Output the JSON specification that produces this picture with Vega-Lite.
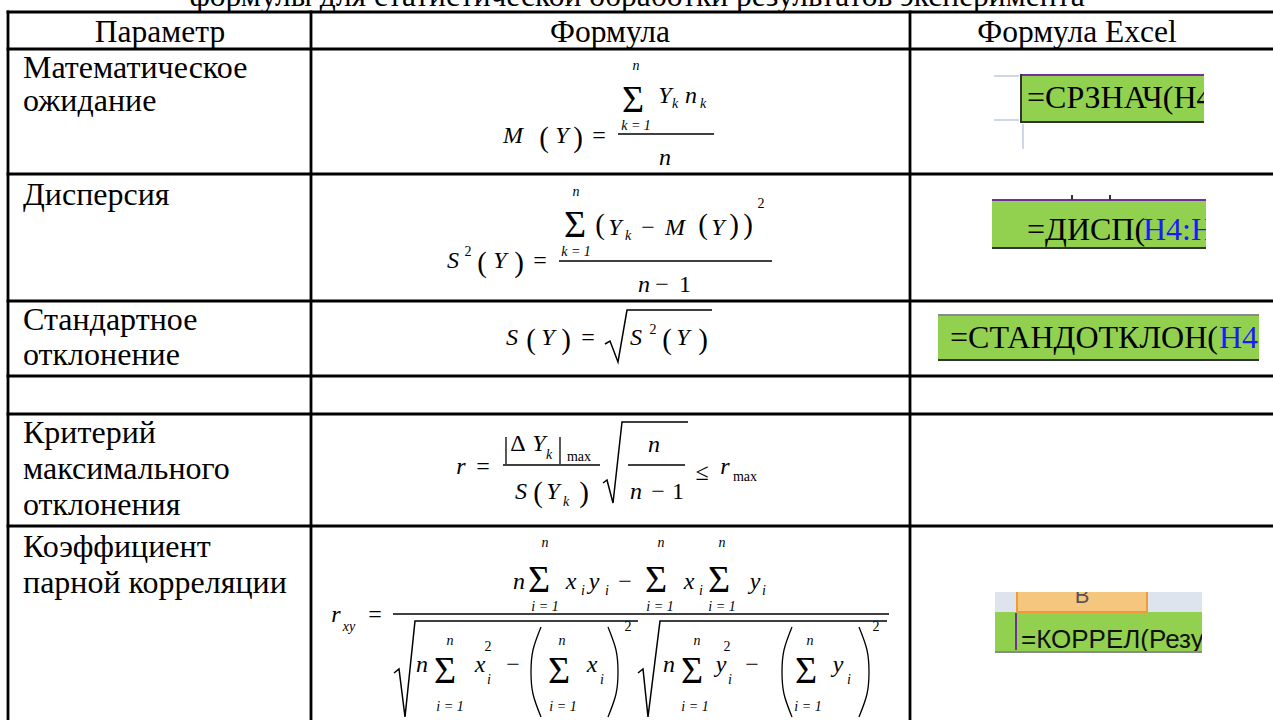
{
 "$schema": "https://vega.github.io/schema/vega-lite/v6.json",
 "width": 1273, "height": 720, "autosize": {"type": "none"}, "padding": 0,
 "background": "white",
 "config": {"view": {"stroke": null}},
 "datasets": {
  "grid": [
   {"x":8,"x2":1273,"y":12,"y2":12},{"x":8,"x2":1273,"y":49,"y2":49},{"x":8,"x2":1273,"y":174,"y2":174},
   {"x":8,"x2":1273,"y":301,"y2":301},{"x":8,"x2":1273,"y":376,"y2":376},{"x":8,"x2":1273,"y":414,"y2":414},
   {"x":8,"x2":1273,"y":526,"y2":526},
   {"x":8,"x2":8,"y":12,"y2":720},{"x":311,"x2":311,"y":12,"y2":720},{"x":910,"x2":910,"y":12,"y2":720}
  ],
  "text": [
   {"t":"формулы для статистической обработки результатов эксперимента","x":637,"y":6,"k":"c"},
   {"t":"Параметр","x":160,"y":42,"k":"c"},
   {"t":"Формула","x":610,"y":42,"k":"c"},
   {"t":"Формула Excel","x":1077,"y":42,"k":"c"},
   {"t":"Математическое","x":23,"y":78,"k":"l"},
   {"t":"ожидание","x":23,"y":111,"k":"l"},
   {"t":"Дисперсия","x":23,"y":205,"k":"l"},
   {"t":"Стандартное","x":23,"y":330,"k":"l"},
   {"t":"отклонение","x":23,"y":365,"k":"l"},
   {"t":"Критерий","x":23,"y":443,"k":"l"},
   {"t":"максимального","x":23,"y":479,"k":"l"},
   {"t":"отклонения","x":23,"y":515,"k":"l"},
   {"t":"Коэффициент","x":23,"y":557,"k":"l"},
   {"t":"парной корреляции","x":23,"y":593,"k":"l"}
  ],
  "rects": [
   {"x":1020,"x2":1204,"y":74,"y2":123,"part":"green"},
   {"x":992,"x2":1206,"y":200,"y2":249,"part":"green"},
   {"x":938,"x2":1259,"y":315,"y2":361,"part":"green"},
   {"x":995,"x2":1202,"y":612,"y2":653,"part":"green"},
   {"x":995,"x2":1202,"y":592,"y2":612,"part":"strip"},
   {"x":1017,"x2":1147,"y":592,"y2":612,"part":"orange"},
   {"x":1204,"x2":1235,"y":70,"y2":128,"part":"mask"},
   {"x":1206,"x2":1240,"y":196,"y2":252,"part":"mask"},
   {"x":1259,"x2":1272,"y":312,"y2":364,"part":"mask"},
   {"x":1202,"x2":1235,"y":608,"y2":656,"part":"mask"},
   {"x":990,"x2":1210,"y":575,"y2":592,"part":"mask"}
  ],
  "xlines": [
   {"x":1020,"x2":1204,"y":75,"y2":75,"part":"purple"},
   {"x":1021,"x2":1021,"y":74,"y2":123,"part":"dark"},
   {"x":1020,"x2":1204,"y":122,"y2":122,"part":"dark"},
   {"x":994,"x2":1019,"y":76,"y2":76,"part":"grid"},
   {"x":994,"x2":1019,"y":120,"y2":120,"part":"grid"},
   {"x":1023,"x2":1023,"y":124,"y2":149,"part":"grid"},
   {"x":992,"x2":1206,"y":200,"y2":200,"part":"purple"},
   {"x":1072,"x2":1072,"y":195,"y2":200,"part":"dark"},
   {"x":1110,"x2":1110,"y":195,"y2":200,"part":"dark"},
   {"x":992,"x2":1206,"y":248,"y2":248,"part":"dark"},
   {"x":938,"x2":1259,"y":315,"y2":315,"part":"gray"},
   {"x":938,"x2":1259,"y":360,"y2":360,"part":"dark"},
   {"x":1017,"x2":1017,"y":592,"y2":612,"part":"obord"},
   {"x":1147,"x2":1147,"y":592,"y2":612,"part":"obord"},
   {"x":1017,"x2":1147,"y":612,"y2":612,"part":"obord"},
   {"x":1016,"x2":1016,"y":613,"y2":650,"part":"purple"},
   {"x":995,"x2":1202,"y":652,"y2":652,"part":"gray"}
  ],
  "xtext": [
   {"t":"=СРЗНАЧ(H4","x":1027,"y":108,"part":"func"},
   {"t":"=ДИСП(","x":1027,"y":240,"part":"func"},
   {"t":"H4:H","x":1143,"y":240,"part":"ref"},
   {"t":"=СТАНДОТКЛОН(","x":950,"y":348,"part":"func"},
   {"t":"H4:","x":1219,"y":348,"part":"ref"},
   {"t":"=КОРРЕЛ(Резу","x":1021,"y":648,"part":"sans"},
   {"t":"B","x":1082,"y":603,"part":"col"}
  ],
  "ftext": [
   {"t":"M","x":513,"y":143,"r":"v"},{"t":"(","x":544,"y":147,"r":"p"},{"t":"Y","x":562,"y":143,"r":"v"},
   {"t":")","x":578,"y":147,"r":"p"},{"t":"=","x":599,"y":143,"r":"o"},{"t":"n","x":636,"y":70,"r":"i"},
   {"t":"Σ","x":633,"y":112,"r":"s"},{"t":"k = 1","x":636,"y":130,"r":"i"},{"t":"Y","x":665,"y":103,"r":"v"},
   {"t":"k","x":675,"y":108,"r":"i"},{"t":"n","x":691,"y":103,"r":"v"},{"t":"k","x":703,"y":108,"r":"i"},
   {"t":"n","x":665,"y":165,"r":"v"},

   {"t":"S","x":453,"y":268,"r":"v"},{"t":"2","x":468,"y":256,"r":"u"},{"t":"(","x":482,"y":272,"r":"p"},
   {"t":"Y","x":500,"y":268,"r":"v"},{"t":")","x":519,"y":272,"r":"p"},{"t":"=","x":540,"y":268,"r":"o"},
   {"t":"n","x":576,"y":196,"r":"i"},{"t":"Σ","x":575,"y":237,"r":"s"},{"t":"k = 1","x":576,"y":256,"r":"i"},
   {"t":"(","x":600,"y":234,"r":"p"},{"t":"Y","x":615,"y":235,"r":"v"},{"t":"k","x":628,"y":240,"r":"i"},
   {"t":"−","x":648,"y":235,"r":"o"},{"t":"M","x":675,"y":235,"r":"v"},{"t":"(","x":703,"y":234,"r":"p"},
   {"t":"Y","x":718,"y":235,"r":"v"},{"t":")","x":734,"y":234,"r":"p"},{"t":")","x":748,"y":234,"r":"p"},
   {"t":"2","x":761,"y":208,"r":"u"},{"t":"n","x":644,"y":292,"r":"v"},{"t":"−","x":662,"y":292,"r":"o"},
   {"t":"1","x":685,"y":292,"r":"o"},

   {"t":"S","x":512,"y":345,"r":"v"},{"t":"(","x":531,"y":349,"r":"p"},{"t":"Y","x":548,"y":345,"r":"v"},
   {"t":")","x":566,"y":349,"r":"p"},{"t":"=","x":588,"y":345,"r":"o"},{"t":"S","x":636,"y":345,"r":"v"},
   {"t":"2","x":653,"y":334,"r":"u"},{"t":"(","x":667,"y":349,"r":"p"},{"t":"Y","x":683,"y":345,"r":"v"},
   {"t":")","x":703,"y":349,"r":"p"},

   {"t":"r","x":461,"y":474,"r":"v"},{"t":"=","x":483,"y":474,"r":"o"},{"t":"Δ","x":518,"y":451,"r":"o"},
   {"t":"Y","x":539,"y":451,"r":"v"},{"t":"k","x":549,"y":459,"r":"i"},{"t":"max","x":579,"y":461,"r":"u"},
   {"t":"S","x":521,"y":499,"r":"v"},{"t":"(","x":538,"y":502,"r":"p"},{"t":"Y","x":553,"y":499,"r":"v"},
   {"t":"k","x":566,"y":506,"r":"i"},{"t":")","x":584,"y":502,"r":"p"},{"t":"n","x":654,"y":452,"r":"v"},
   {"t":"n","x":636,"y":499,"r":"v"},{"t":"−","x":658,"y":499,"r":"o"},{"t":"1","x":678,"y":499,"r":"o"},
   {"t":"≤","x":702,"y":480,"r":"o"},{"t":"r","x":725,"y":474,"r":"v"},{"t":"max","x":745,"y":481,"r":"u"},

   {"t":"n","x":519,"y":589,"r":"v"},{"t":"Σ","x":539,"y":592,"r":"s"},{"t":"n","x":545,"y":547,"r":"i"},
   {"t":"i = 1","x":545,"y":611,"r":"i"},{"t":"x","x":571,"y":589,"r":"v"},{"t":"i","x":583,"y":595,"r":"i"},
   {"t":"y","x":594,"y":589,"r":"v"},{"t":"i","x":607,"y":595,"r":"i"},{"t":"−","x":625,"y":589,"r":"o"},
   {"t":"Σ","x":656,"y":592,"r":"s"},{"t":"n","x":661,"y":547,"r":"i"},{"t":"i = 1","x":660,"y":611,"r":"i"},
   {"t":"x","x":689,"y":589,"r":"v"},{"t":"i","x":701,"y":595,"r":"i"},{"t":"Σ","x":719,"y":592,"r":"s"},
   {"t":"n","x":722,"y":547,"r":"i"},{"t":"i = 1","x":722,"y":611,"r":"i"},{"t":"y","x":755,"y":589,"r":"v"},
   {"t":"i","x":764,"y":595,"r":"i"},
   {"t":"r","x":336,"y":622,"r":"v"},{"t":"xy","x":349,"y":631,"r":"i"},{"t":"=","x":375,"y":622,"r":"o"},
   {"t":"n","x":422,"y":672,"r":"v"},{"t":"Σ","x":445,"y":683,"r":"s"},{"t":"n","x":450,"y":645,"r":"i"},
   {"t":"i = 1","x":450,"y":711,"r":"i"},{"t":"x","x":480,"y":672,"r":"v"},{"t":"2","x":488,"y":651,"r":"u"},
   {"t":"i","x":489,"y":684,"r":"i"},{"t":"−","x":513,"y":672,"r":"o"},{"t":"Σ","x":559,"y":683,"r":"s"},
   {"t":"n","x":562,"y":645,"r":"i"},{"t":"i = 1","x":563,"y":711,"r":"i"},{"t":"x","x":592,"y":672,"r":"v"},
   {"t":"i","x":602,"y":684,"r":"i"},{"t":"2","x":628,"y":631,"r":"u"},
   {"t":"n","x":669,"y":672,"r":"v"},{"t":"Σ","x":692,"y":683,"r":"s"},{"t":"n","x":697,"y":645,"r":"i"},
   {"t":"i = 1","x":695,"y":711,"r":"i"},{"t":"y","x":721,"y":672,"r":"v"},{"t":"2","x":727,"y":651,"r":"u"},
   {"t":"i","x":730,"y":684,"r":"i"},{"t":"−","x":752,"y":672,"r":"o"},{"t":"Σ","x":806,"y":683,"r":"s"},
   {"t":"n","x":810,"y":645,"r":"i"},{"t":"i = 1","x":808,"y":711,"r":"i"},{"t":"y","x":838,"y":672,"r":"v"},
   {"t":"i","x":849,"y":684,"r":"i"},{"t":"2","x":876,"y":631,"r":"u"}
  ],
  "flines": [
   {"x":618,"x2":714,"y":134,"y2":134},{"x":559,"x2":772,"y":261,"y2":261},
   {"x":503,"x2":600,"y":465,"y2":465},{"x":628,"x2":685,"y":465,"y2":465},
   {"x":393,"x2":889,"y":614,"y2":614},
   {"x":506,"x2":506,"y":437,"y2":464},{"x":560,"x2":560,"y":437,"y2":464}
  ],
  "radicals": [
   {"id":"r3","k":1,"x":605,"y":344},{"id":"r3","k":2,"x":610,"y":341},{"id":"r3","k":3,"x":618,"y":362},{"id":"r3","k":4,"x":627,"y":310},{"id":"r3","k":5,"x":712,"y":310},
   {"id":"r5","k":1,"x":603,"y":483},{"id":"r5","k":2,"x":607,"y":480},{"id":"r5","k":3,"x":613,"y":503},{"id":"r5","k":4,"x":622,"y":422},{"id":"r5","k":5,"x":688,"y":422},
   {"id":"r6a","k":1,"x":394,"y":673},{"id":"r6a","k":2,"x":399,"y":669},{"id":"r6a","k":3,"x":405,"y":717},{"id":"r6a","k":4,"x":415,"y":621},{"id":"r6a","k":5,"x":638,"y":621},
   {"id":"r6b","k":1,"x":638,"y":673},{"id":"r6b","k":2,"x":643,"y":669},{"id":"r6b","k":3,"x":648,"y":717},{"id":"r6b","k":4,"x":660,"y":621},{"id":"r6b","k":5,"x":887,"y":621}
  ],
  "parens": [
   {"id":"pa","k":1,"x":541,"y":627},{"id":"pa","k":2,"x":533,"y":650},{"id":"pa","k":3,"x":531,"y":672},{"id":"pa","k":4,"x":533,"y":694},{"id":"pa","k":5,"x":541,"y":717},
   {"id":"pb","k":1,"x":608,"y":627},{"id":"pb","k":2,"x":616,"y":650},{"id":"pb","k":3,"x":618,"y":672},{"id":"pb","k":4,"x":616,"y":694},{"id":"pb","k":5,"x":608,"y":717},
   {"id":"pc","k":1,"x":792,"y":627},{"id":"pc","k":2,"x":784,"y":650},{"id":"pc","k":3,"x":782,"y":672},{"id":"pc","k":4,"x":784,"y":694},{"id":"pc","k":5,"x":792,"y":717},
   {"id":"pd","k":1,"x":859,"y":627},{"id":"pd","k":2,"x":867,"y":650},{"id":"pd","k":3,"x":869,"y":672},{"id":"pd","k":4,"x":867,"y":694},{"id":"pd","k":5,"x":859,"y":717}
  ]
 },
 "layer": [
  {
   "data": {"name": "rects"},
   "transform": [{"filter": "datum.part !== 'mask'"}],
   "mark": {"type": "rect"},
   "encoding": {
    "x": {"field": "x", "type": "quantitative", "scale": {"domain": [0, 1273], "nice": false, "zero": false}, "axis": null},
    "x2": {"field": "x2"},
    "y": {"field": "y", "type": "quantitative", "scale": {"domain": [0, 720], "nice": false, "zero": false, "reverse": true}, "axis": null},
    "y2": {"field": "y2"},
    "color": {"field": "part", "type": "nominal", "legend": null,
     "scale": {"domain": ["green","strip","orange","purple","dark","gray","grid","obord","func","ref","col","sans"],
               "range": ["#92d050","#dde4ee","#f5c77e","#7030a0","#333333","#8a8a8a","#cfd7e6","#f29a38","#000000","#1a1aff","#555555","#111111"]}}
   }
  },
  {
   "data": {"name": "xtext"},
   "transform": [{"filter": "datum.part === 'func' || datum.part === 'ref'"}],
   "mark": {"type": "text", "align": "left", "baseline": "alphabetic", "font": "Liberation Serif", "fontSize": 32},
   "encoding": {
    "x": {"field": "x", "type": "quantitative", "axis": null},
    "y": {"field": "y", "type": "quantitative", "axis": null},
    "text": {"field": "t"},
    "color": {"field": "part", "type": "nominal", "legend": null,
     "scale": {"domain": ["green","strip","orange","purple","dark","gray","grid","obord","func","ref","col","sans"],
               "range": ["#92d050","#dde4ee","#f5c77e","#7030a0","#333333","#8a8a8a","#cfd7e6","#f29a38","#000000","#1a1aff","#555555","#111111"]}}
   }
  },
  {
   "data": {"name": "xtext"},
   "transform": [{"filter": "datum.part === 'sans'"}],
   "mark": {"type": "text", "align": "left", "baseline": "alphabetic", "font": "Liberation Sans", "fontSize": 26, "color": "#111111"},
   "encoding": {
    "x": {"field": "x", "type": "quantitative", "axis": null},
    "y": {"field": "y", "type": "quantitative", "axis": null},
    "text": {"field": "t"}
   }
  },
  {
   "data": {"name": "xtext"},
   "transform": [{"filter": "datum.part === 'col'"}],
   "mark": {"type": "text", "align": "center", "baseline": "alphabetic", "font": "Liberation Sans", "fontSize": 22, "color": "#555555"},
   "encoding": {
    "x": {"field": "x", "type": "quantitative", "axis": null},
    "y": {"field": "y", "type": "quantitative", "axis": null},
    "text": {"field": "t"}
   }
  },
  {
   "data": {"name": "rects"},
   "transform": [{"filter": "datum.part === 'mask'"}],
   "mark": {"type": "rect", "color": "#ffffff"},
   "encoding": {
    "x": {"field": "x", "type": "quantitative", "axis": null},
    "x2": {"field": "x2"},
    "y": {"field": "y", "type": "quantitative", "axis": null},
    "y2": {"field": "y2"}
   }
  },
  {
   "data": {"name": "xlines"},
   "mark": {"type": "rule", "strokeWidth": 2},
   "encoding": {
    "x": {"field": "x", "type": "quantitative", "axis": null},
    "x2": {"field": "x2"},
    "y": {"field": "y", "type": "quantitative", "axis": null},
    "y2": {"field": "y2"},
    "color": {"field": "part", "type": "nominal", "legend": null,
     "scale": {"domain": ["green","strip","orange","purple","dark","gray","grid","obord","func","ref","col","sans"],
               "range": ["#92d050","#dde4ee","#f5c77e","#7030a0","#333333","#8a8a8a","#cfd7e6","#f29a38","#000000","#1a1aff","#555555","#111111"]}}
   }
  },
  {
   "data": {"name": "grid"},
   "mark": {"type": "rule", "strokeWidth": 2.8, "color": "#000000", "strokeCap": "square"},
   "encoding": {
    "x": {"field": "x", "type": "quantitative", "axis": null},
    "x2": {"field": "x2"},
    "y": {"field": "y", "type": "quantitative", "axis": null},
    "y2": {"field": "y2"}
   }
  },
  {
   "data": {"name": "text"},
   "transform": [{"filter": "datum.k === 'c'"}],
   "mark": {"type": "text", "align": "center", "baseline": "alphabetic", "font": "Liberation Serif", "fontSize": 31.5, "color": "#000000"},
   "encoding": {
    "x": {"field": "x", "type": "quantitative", "axis": null},
    "y": {"field": "y", "type": "quantitative", "axis": null},
    "text": {"field": "t"}
   }
  },
  {
   "data": {"name": "text"},
   "transform": [{"filter": "datum.k === 'l'"}],
   "mark": {"type": "text", "align": "left", "baseline": "alphabetic", "font": "Liberation Serif", "fontSize": 32, "color": "#000000"},
   "encoding": {
    "x": {"field": "x", "type": "quantitative", "axis": null},
    "y": {"field": "y", "type": "quantitative", "axis": null},
    "text": {"field": "t"}
   }
  },
  {
   "data": {"name": "ftext"},
   "transform": [{"filter": "datum.r === 'v'"}],
   "mark": {"type": "text", "align": "center", "baseline": "alphabetic", "font": "Liberation Serif", "fontStyle": "italic", "fontSize": 24, "color": "#000000"},
   "encoding": {
    "x": {"field": "x", "type": "quantitative", "axis": null},
    "y": {"field": "y", "type": "quantitative", "axis": null},
    "text": {"field": "t"}
   }
  },
  {
   "data": {"name": "ftext"},
   "transform": [{"filter": "datum.r === 'o'"}],
   "mark": {"type": "text", "align": "center", "baseline": "alphabetic", "font": "Liberation Serif", "fontSize": 24, "color": "#000000"},
   "encoding": {
    "x": {"field": "x", "type": "quantitative", "axis": null},
    "y": {"field": "y", "type": "quantitative", "axis": null},
    "text": {"field": "t"}
   }
  },
  {
   "data": {"name": "ftext"},
   "transform": [{"filter": "datum.r === 'p'"}],
   "mark": {"type": "text", "align": "center", "baseline": "alphabetic", "font": "Liberation Serif", "fontSize": 29, "color": "#000000"},
   "encoding": {
    "x": {"field": "x", "type": "quantitative", "axis": null},
    "y": {"field": "y", "type": "quantitative", "axis": null},
    "text": {"field": "t"}
   }
  },
  {
   "data": {"name": "ftext"},
   "transform": [{"filter": "datum.r === 's'"}],
   "mark": {"type": "text", "align": "center", "baseline": "alphabetic", "font": "Liberation Serif", "fontSize": 38, "color": "#000000"},
   "encoding": {
    "x": {"field": "x", "type": "quantitative", "axis": null},
    "y": {"field": "y", "type": "quantitative", "axis": null},
    "text": {"field": "t"}
   }
  },
  {
   "data": {"name": "ftext"},
   "transform": [{"filter": "datum.r === 'i'"}],
   "mark": {"type": "text", "align": "center", "baseline": "alphabetic", "font": "Liberation Serif", "fontStyle": "italic", "fontSize": 14, "color": "#000000"},
   "encoding": {
    "x": {"field": "x", "type": "quantitative", "axis": null},
    "y": {"field": "y", "type": "quantitative", "axis": null},
    "text": {"field": "t"}
   }
  },
  {
   "data": {"name": "ftext"},
   "transform": [{"filter": "datum.r === 'u'"}],
   "mark": {"type": "text", "align": "center", "baseline": "alphabetic", "font": "Liberation Serif", "fontSize": 14, "color": "#000000"},
   "encoding": {
    "x": {"field": "x", "type": "quantitative", "axis": null},
    "y": {"field": "y", "type": "quantitative", "axis": null},
    "text": {"field": "t"}
   }
  },
  {
   "data": {"name": "flines"},
   "mark": {"type": "rule", "strokeWidth": 1.3, "color": "#000000"},
   "encoding": {
    "x": {"field": "x", "type": "quantitative", "axis": null},
    "x2": {"field": "x2"},
    "y": {"field": "y", "type": "quantitative", "axis": null},
    "y2": {"field": "y2"}
   }
  },
  {
   "data": {"name": "radicals"},
   "mark": {"type": "line", "strokeWidth": 1.5, "color": "#000000", "interpolate": "linear"},
   "encoding": {
    "x": {"field": "x", "type": "quantitative", "axis": null},
    "y": {"field": "y", "type": "quantitative", "axis": null},
    "detail": {"field": "id", "type": "nominal"},
    "order": {"field": "k", "type": "quantitative"}
   }
  },
  {
   "data": {"name": "parens"},
   "mark": {"type": "line", "strokeWidth": 1.3, "color": "#000000", "interpolate": "natural"},
   "encoding": {
    "x": {"field": "x", "type": "quantitative", "axis": null},
    "y": {"field": "y", "type": "quantitative", "axis": null},
    "detail": {"field": "id", "type": "nominal"},
    "order": {"field": "k", "type": "quantitative"}
   }
  }
 ]
}
